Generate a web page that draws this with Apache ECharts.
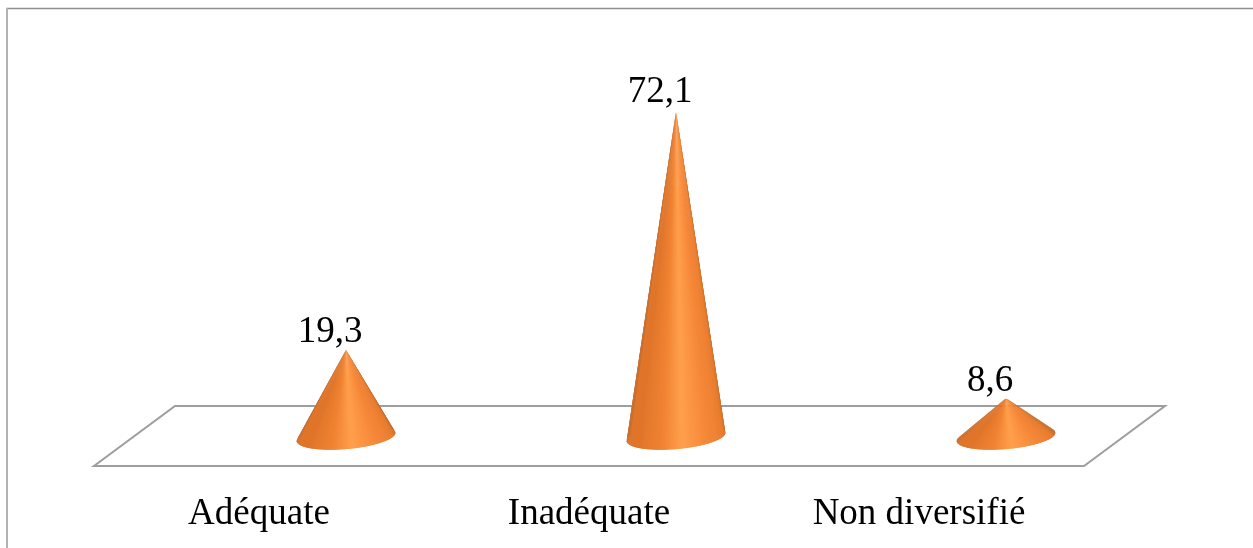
<!DOCTYPE html>
<html>
<head>
<meta charset="utf-8">
<style>
html, body { margin: 0; padding: 0; background: #fff; overflow: hidden; }
#main { width: 1253px; height: 548px; }
</style>
<script src="https://cdn.jsdelivr.net/npm/echarts@6/dist/echarts.min.js"></script>
</head>
<body>
<div id="main"></div>
<script>
var categories = ['Adéquate', 'Inadéquate', 'Non diversifié'];
var values = [19.3, 72.1, 8.6];

var serif = '"Liberation Serif", "Times New Roman", serif';
var depthX = 87; // the cones stand in the middle of the floor, not on its front edge
var depthY = -29;
var floorX = 81;
var floorY = -60;

// colour round the front of the cone, 0 = right edge, 1 = left edge
var shade = [
	[0, [196, 108, 44]],
	[0.1, [232, 124, 46]],
	[0.3, [246, 136, 58]],
	[0.47, [255, 159, 76]],
	[0.6, [240, 130, 50]],
	[0.78, [224, 117, 42]],
	[0.92, [224, 117, 42]],
	[1, [200, 112, 50]]
];

function shadeAt(t) {
	t = Math.max(0, Math.min(1, t));
	for (var i = 1; i < shade.length; i++) {
		if (t <= shade[i][0]) {
			var a = shade[i - 1], b = shade[i];
			var k = (t - a[0]) / (b[0] - a[0]);
			return 'rgb(' + [0, 1, 2].map(function (c) {
				return Math.round(a[1][c] + (b[1][c] - a[1][c]) * k);
			}).join(',') + ')';
		}
	}
	return 'rgb(200,112,50)';
}

function renderCone(params, api) {
	var base = api.coord([api.value(0), 0]);
	var tip = api.coord([api.value(0), api.value(1)]);
	var cx = base[0] + depthX, cy = base[1] + depthY;
	var ax = tip[0] + depthX, ay = tip[1] + depthY;
	var rx = 49.5, ry = 12, tilt = -5 * Math.PI / 180;
	var steps = 80, over = 0.4, children = [];

	function rim(th) {
		return [
			cx + rx * Math.cos(th) * Math.cos(tilt) - ry * Math.sin(th) * Math.sin(tilt),
			cy + rx * Math.cos(th) * Math.sin(tilt) + ry * Math.sin(th) * Math.cos(tilt)
		];
	}
	// runs a little past both ends of the base to round the corners,
	// each wedge goes under the next one so no seams show
	var span = Math.PI + 2 * over;
	for (var i = 0; i < steps; i++) {
		var end = Math.min(i + 2, steps);
		var mid = -over + span * (i + 0.5) / steps;
		children.push({
			type: 'polygon',
			shape: { points: [[ax, ay], rim(-over + span * i / steps), rim(-over + span * end / steps)] },
			style: { fill: shadeAt(mid / Math.PI) }
		});
	}
	children.push({
		type: 'text',
		style: {
			text: String(api.value(1)).replace('.', ','),
			x: ax - 16,
			y: ay + 2 - 0.042 * api.value(1),
			align: 'center',
			verticalAlign: 'bottom',
			font: '37px ' + serif,
			fill: '#000'
		}
	});
	return { type: 'group', children: children };
}

function renderFloor(params) {
	var g = params.coordSys;
	var left = g.x, right = g.x + g.width, front = g.y + g.height;
	return {
		type: 'polygon',
		shape: {
			points: [
				[left, front],
				[right, front],
				[right + floorX, front + floorY],
				[left + floorX, front + floorY]
			]
		},
		style: { fill: 'none', stroke: '#9e9e9e', lineWidth: 2 }
	};
}

var myChart = echarts.init(document.getElementById('main'));
var option = {
	animation: false,
	backgroundColor: '#fff',
	graphic: [{
		type: 'line',
		silent: true,
		shape: { x1: 6, y1: 8.5, x2: 1253, y2: 8.5 },
		style: { stroke: '#8f8f8f', lineWidth: 1.5 }
	}, {
		type: 'line',
		silent: true,
		shape: { x1: 7, y1: 8, x2: 7, y2: 548 },
		style: { stroke: '#b3b3b3', lineWidth: 2 }
	}],
	grid: { left: 94, width: 990, top: 105.4, height: 360.6 },
	xAxis: {
		type: 'category',
		data: categories,
		axisLine: { show: false },
		axisTick: { show: false },
		axisLabel: { color: '#000', fontFamily: serif, fontSize: 37, margin: 30 }
	},
	yAxis: {
		type: 'value',
		min: 0,
		max: 80,
		show: false
	},
	series: [{
		type: 'custom',
		silent: true,
		z: 1,
		renderItem: renderFloor,
		encode: { x: 0, y: 1 },
		data: [[0, 0]]
	}, {
		type: 'custom',
		silent: true,
		z: 2,
		renderItem: renderCone,
		encode: { x: 0, y: 1 },
		data: values.map(function (v, i) { return [i, v]; })
	}]
};
myChart.setOption(option);
</script>
</body>
</html>
